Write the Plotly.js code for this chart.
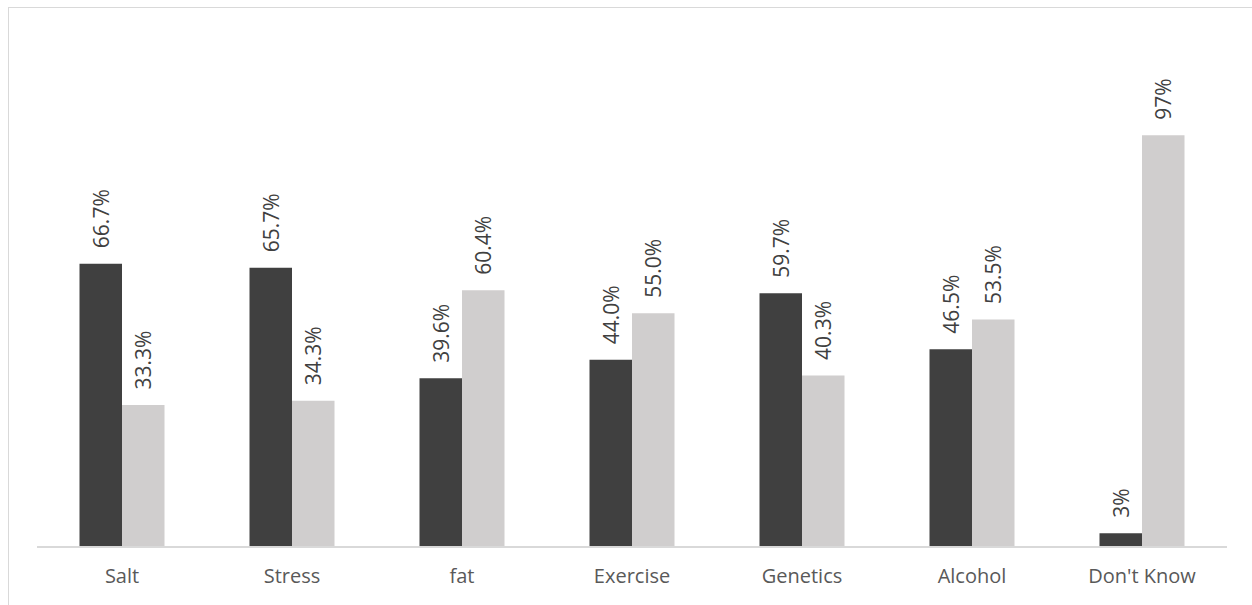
<!DOCTYPE html>
<html>
<head>
<meta charset="utf-8">
<script src="https://cdn.plot.ly/plotly-3.0.1.min.js"></script>
<style>
html,body{margin:0;padding:0;background:#fff;}
#wrap{position:relative;width:1252px;height:605px;}
#chart{width:1252px;height:605px;}
#frame{position:absolute;left:8px;top:7px;right:-2px;bottom:-2px;border-left:1.5px solid #d9d9d9;border-top:1.5px solid #d9d9d9;pointer-events:none;}
</style>
</head>
<body>
<div id="wrap"><div id="chart"></div><div id="frame"></div></div>
<script>
var categories = ["Salt", "Stress", "fat", "Exercise", "Genetics", "Alcohol", "Don't Know"];
var seriesDark = [66.7, 65.7, 39.6, 44.0, 59.7, 46.5, 3];
var seriesLight = [33.3, 34.3, 60.4, 55.0, 40.3, 53.5, 97];
var labelsDark = ["66.7%", "65.7%", "39.6%", "44.0%", "59.7%", "46.5%", "3%"];
var labelsLight = ["33.3%", "34.3%", "60.4%", "55.0%", "40.3%", "53.5%", "97%"];

var FONT = "Open Sans, sans-serif";
var traces = [
  {type: "bar", x: categories, y: seriesDark, name: "Yes", marker: {color: "#404040"}, hoverinfo: "none"},
  {type: "bar", x: categories, y: seriesLight, name: "No", marker: {color: "#d0cece"}, hoverinfo: "none"}
];

var annotations = [];
function addLabels(vals, labels, shift) {
  for (var i = 0; i < categories.length; i++) {
    annotations.push({
      x: categories[i], y: vals[i], xref: "x", yref: "y",
      text: labels[i], showarrow: false, textangle: -90,
      xanchor: "center", yanchor: "bottom", xshift: shift, yshift: 13,
      font: {family: FONT, size: 21, color: "#404040"}
    });
  }
}
addLabels(seriesDark, labelsDark, -21);
addLabels(seriesLight, labelsLight, 21);

var layout = {
  width: 1252, height: 605,
  margin: {l: 37, r: 25, t: 38, b: 59},
  paper_bgcolor: "#ffffff", plot_bgcolor: "#ffffff",
  showlegend: false,
  barmode: "group", bargap: 0.5, bargroupgap: 0,
  font: {family: FONT, color: "#595959"},
  xaxis: {
    showline: true, linecolor: "#d9d9d9", linewidth: 2,
    showgrid: false, zeroline: false, ticks: "",
    tickfont: {family: FONT, size: 20, color: "#595959"},
    ticklabelstandoff: 11
  },
  yaxis: {
    range: [0, 120], visible: false, showgrid: false, zeroline: false
  },
  annotations: annotations
};

Plotly.newPlot("chart", traces, layout, {displayModeBar: false, staticPlot: true});
</script>
</body>
</html>
